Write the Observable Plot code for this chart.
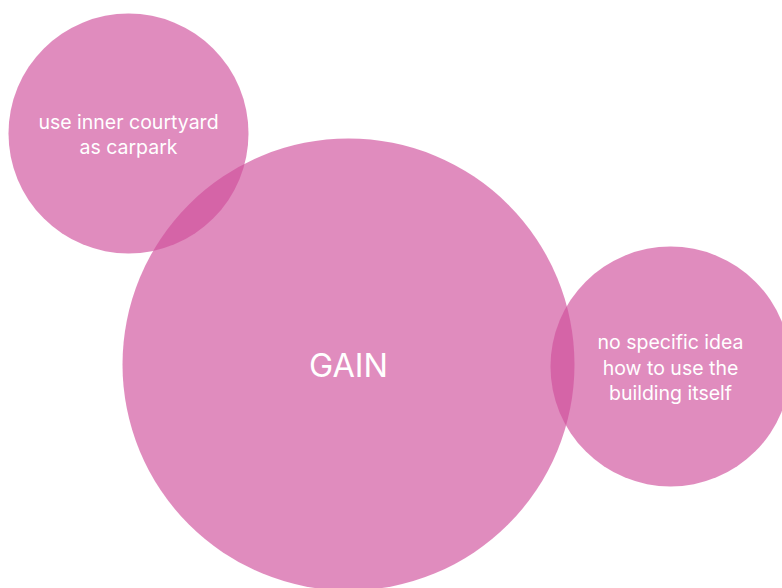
<!DOCTYPE html>
<html>
<head>
<meta charset="utf-8">
<script src="https://cdn.jsdelivr.net/npm/d3@7"></script>
<script src="https://cdn.jsdelivr.net/npm/@observablehq/plot@0.6"></script>
<style>
  html, body { margin: 0; padding: 0; background: #fff; overflow: hidden; }
</style>
</head>
<body>
<div id="chart"></div>
<script>
const labels = ["use inner courtyard\nas carpark", "GAIN", "no specific idea\nhow to use the\nbuilding itself"];
const cx = [128, 348, 670];
const cy = [133, 364, 366];
const sizes = [120, 226, 120];
const fontSizes = [19.5, 32.5, 19.5];

const data = labels.map((label, i) => ({label, x: cx[i], y: cy[i], r: sizes[i], fs: fontSizes[i]}));

const chart = Plot.plot({
  width: 782,
  height: 588,
  margin: 0,
  x: {domain: [0, 782], range: [0, 782], axis: null},
  y: {domain: [0, 588], range: [0, 588], axis: null},
  r: {type: "linear", domain: [0, 226], range: [0, 226]},
  style: {overflow: "hidden", fontFamily: "Inter, 'Noto Sans', sans-serif", background: "#fff"},
  marks: [
    Plot.dot(data, {x: "x", y: "y", r: "r", fill: "#d04e9b", fillOpacity: 0.65, stroke: "none"}),
    Plot.text(data.filter(d => d.label !== "GAIN"), {x: "x", y: "y", text: "label", fill: "white", fontSize: 19.5, lineHeight: 1.3, textAnchor: "middle", lineAnchor: "middle"}),
    Plot.text(data.filter(d => d.label === "GAIN"), {x: "x", y: "y", dy: 2, text: "label", fill: "white", fontSize: 32.5, textAnchor: "middle", lineAnchor: "middle"})
  ]
});
document.getElementById("chart").appendChild(chart);
</script>
</body>
</html>
